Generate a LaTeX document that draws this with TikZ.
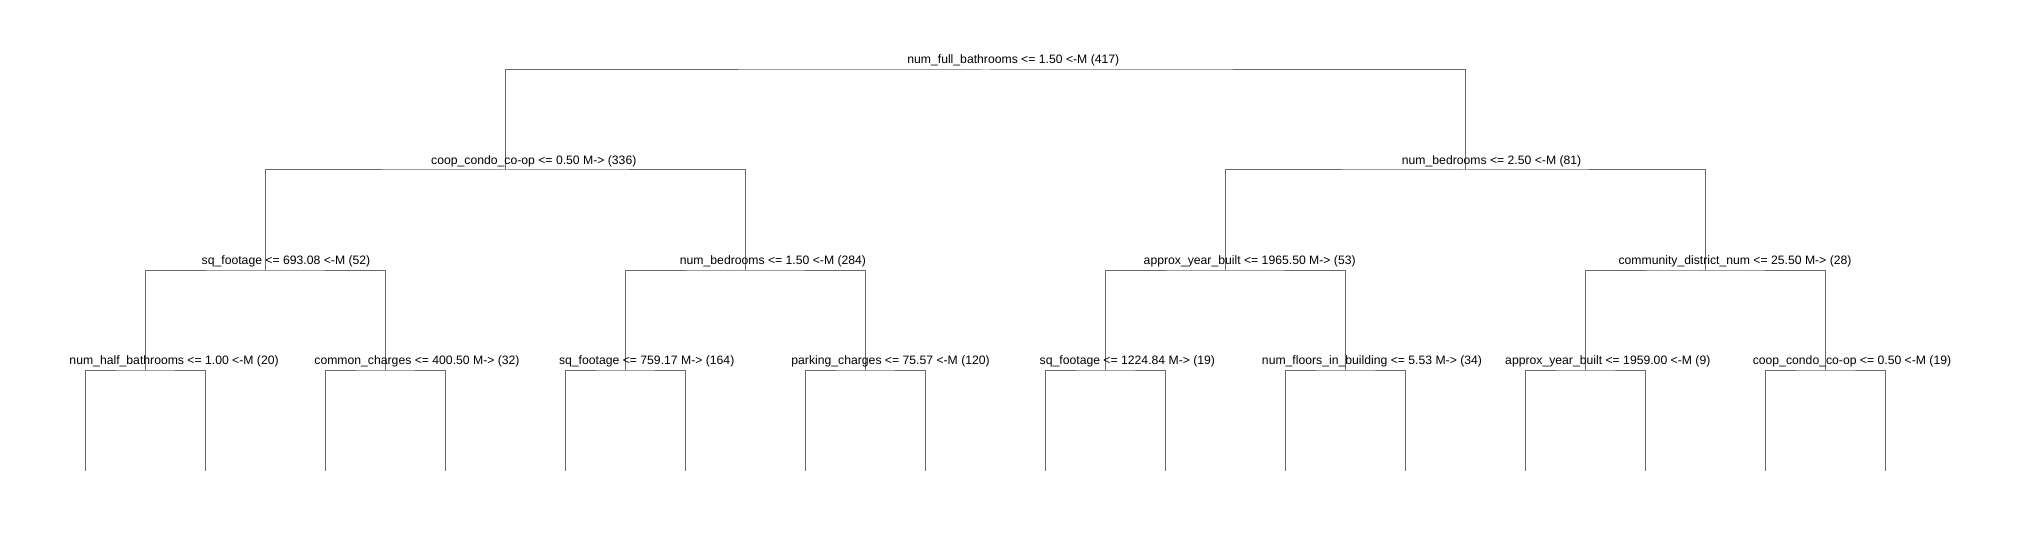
\documentclass[tikz,border=0pt]{standalone}
\usepackage{fontspec}
\setmainfont{Liberation Sans}
\definecolor{edgegray}{RGB}{104,104,104}

\begin{document}
\begin{tikzpicture}[
		x=0.5pt, y=-0.5pt,
		edge/.style={draw=edgegray, line width=0.5pt},
		split/.style={anchor=base, inner sep=0pt, font=\fontsize{6.1}{7}\selectfont}
	]
		\useasboundingbox (0,0) rectangle (2020,540);
		
		% split points, numbered like a heap
		\coordinate (n-1) at (985.6,70);
		\coordinate (n-2) at (505.6,170);
		\coordinate (n-3) at (1465.6,170);
		\coordinate (n-4) at (265.6,270);
		\coordinate (n-5) at (745.6,270);
		\coordinate (n-6) at (1225.6,270);
		\coordinate (n-7) at (1705.6,270);
		\foreach \j [evaluate=\j as \k using int(8+\j)] in {0,...,7}
			\coordinate (n-\k) at (145.6+240*\j,370);
		\foreach \j [evaluate=\j as \k using int(16+\j)] in {0,...,15}
			\coordinate (n-\k) at (85.6+120*\j,471);
		
		\foreach \k [evaluate=\k as \kl using int(2*\k), evaluate=\k as \kr using int(2*\k+1)] in {1,...,15}
			\draw[edge] (n-\kl) |- (n-\k) -| (n-\kr);
		
		\node[split](lbl-1) at (1013.3,64) {num\_full\_bathrooms <= 1.50 <-M (417)};
		\node[split](lbl-2) at (533.8,164) {coop\_condo\_co-op <= 0.50 M-> (336)};
		\node[split](lbl-3) at (1491.6,164) {num\_bedrooms <= 2.50 <-M (81)};
		\node[split](lbl-4) at (286,264) {sq\_footage <= 693.08 <-M (52)};
		\node[split](lbl-5) at (773,264) {num\_bedrooms <= 1.50 <-M (284)};
		\node[split](lbl-6) at (1249.7,264) {approx\_year\_built <= 1965.50 M-> (53)};
		\node[split](lbl-7) at (1735,264) {community\_district\_num <= 25.50 M-> (28)};
		\node[split](lbl-8) at (174.1,364) {num\_half\_bathrooms <= 1.00 <-M (20)};
		\node[split](lbl-9) at (417,364) {common\_charges <= 400.50 M-> (32)};
		\node[split](lbl-10) at (646.7,364) {sq\_footage <= 759.17 M-> (164)};
		\node[split](lbl-11) at (890.6,364) {parking\_charges <= 75.57 <-M (120)};
		\node[split](lbl-12) at (1127.4,364) {sq\_footage <= 1224.84 M-> (19)};
		\node[split](lbl-13) at (1372,364) {num\_floors\_in\_building <= 5.53 M-> (34)};
		\node[split](lbl-14) at (1607.8,364) {approx\_year\_built <= 1959.00 <-M (9)};
		\node[split](lbl-15) at (1852,364) {coop\_condo\_co-op <= 0.50 <-M (19)};
	\end{tikzpicture}
\end{document}
